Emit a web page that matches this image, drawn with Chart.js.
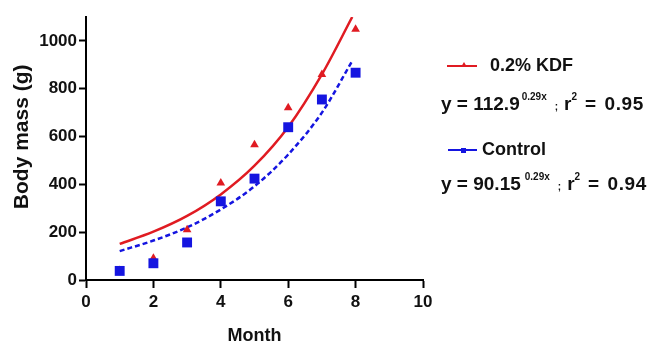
<!DOCTYPE html>
<html>
<head>
<meta charset="utf-8">
<script src="https://cdn.jsdelivr.net/npm/chart.js@4"></script>
<style>
html, body { margin: 0; padding: 0; background: #fff; }
#wrap { position: relative; width: 652px; height: 347px; }
#myChart { position: absolute; left: 0; top: 0; }
.lg { position: absolute; font-family: 'Liberation Sans', Arial, sans-serif; font-weight: bold; font-size: 18px; line-height: 18px; color: #111; white-space: pre; }
.eq { font-size: 19px; }
.sup { font-size: 10px; position: relative; top: -10px; }
.semi { font-size: 10px; margin-left: 8px; }
.r { margin-left: 6px; }
.tail { letter-spacing: 0.6px; word-spacing: 2px; }
.key { position: absolute; height: 2px; }
</style>
</head>
<body>
<div id="wrap">
    <canvas id="myChart" width="652" height="347"></canvas>

    <div class="key" style="left:447px; top:65px; width:30px; background:#e01b22;"></div>
    <div style="position:absolute; left:461px; top:62px; width:0; height:0; border-left:3px solid transparent; border-right:3px solid transparent; border-bottom:5px solid #e01b22;"></div>
    <div class="lg" style="left:490px; top:56px;">0.2% KDF</div>
    <div class="lg eq" style="left:441px; top:95px;">y = 112.9<span class="sup" style="margin-left:2px">0.29x</span><span class="semi">;</span><span class="r">r</span><span class="sup">2</span><span class="tail"> = 0.95</span></div>

    <div class="key" style="left:448px; top:149px; width:29px; background:#1515e0;"></div>
    <div style="position:absolute; left:461px; top:148px; width:5px; height:5px; background:#1515e0;"></div>
    <div class="lg" style="left:482px; top:140px;">Control</div>
    <div class="lg eq" style="left:441px; top:175px;">y = 90.15<span class="sup" style="margin-left:4px">0.29x</span><span class="semi">;</span><span class="r">r</span><span class="sup">2</span><span class="tail"> = 0.94</span></div>
</div>
<script>
// measured points (month, body mass in g)
const months = [1, 2, 3, 4, 5, 6, 7, 8];
const kdfMass = [40, 91, 210, 406, 566, 720, 860, 1049];
const controlMass = [38, 70, 157, 329, 424, 639, 755, 867];

// fitted curves
const fitMonths = [1, 2, 3, 4, 5, 6, 7, 7.9];
const kdfFit = [151, 202, 268, 358, 478, 640, 860, 1100];
const controlFit = [121, 165, 220, 295, 392, 525, 700, 916];

const xTicks = [0, 2, 4, 6, 8, 10];
const yTicks = [0, 200, 400, 600, 800, 1000];

const red = '#e01b22';
const blue = '#1515e0';
const fontFamily = "'Liberation Sans', Arial, sans-serif";

function toPoints(xs, ys) {
    return xs.map((x, i) => ({ x: x, y: ys[i] }));
}

const ctx = document.getElementById('myChart').getContext('2d');
new Chart(ctx, {
    type: 'scatter',
    data: {
        datasets: [
            {
                label: '0.2% KDF fit',
                data: toPoints(fitMonths, kdfFit),
                showLine: true,
                borderColor: red,
                borderWidth: 2.5,
                pointRadius: 0,
                cubicInterpolationMode: 'monotone',
                order: 4
            },
            {
                label: 'Control fit',
                data: toPoints(fitMonths, controlFit),
                showLine: true,
                borderColor: blue,
                borderWidth: 2.5,
                borderDash: [5, 3],
                pointRadius: 0,
                cubicInterpolationMode: 'monotone',
                order: 3
            },
            {
                label: '0.2% KDF',
                data: toPoints(months, kdfMass),
                pointStyle: 'triangle',
                pointRadius: 5,
                backgroundColor: red,
                borderColor: red,
                borderWidth: 0,
                order: 2
            },
            {
                label: 'Control',
                data: toPoints(months, controlMass),
                pointStyle: 'rect',
                pointRadius: 7,
                backgroundColor: blue,
                borderColor: blue,
                borderWidth: 0,
                order: 1
            }
        ]
    },
    options: {
        responsive: false,
        animation: false,
        layout: {
            padding: { top: 17, right: 229, left: 0, bottom: 0 }
        },
        plugins: {
            legend: { display: false },
            tooltip: { enabled: false }
        },
        scales: {
            x: {
                type: 'linear',
                min: 0,
                max: 10,
                afterBuildTicks: (scale) => { scale.ticks = xTicks.map(v => ({ value: v })); },
                afterFit: (scale) => { scale.height = 67; },
                border: { color: '#000', width: 2 },
                grid: { drawOnChartArea: false, tickLength: 8, tickColor: '#000', tickWidth: 2 },
                ticks: {
                    color: '#111', padding: 4, maxRotation: 0,
                    callback: (v) => String(v),
                    font: { family: fontFamily, size: 17, weight: 'bold' }
                },
                title: {
                    display: true,
                    text: 'Month',
                    color: '#111',
                    padding: { top: 0, bottom: 0 },
                    font: { family: fontFamily, size: 18, weight: 'bold' }
                }
            },
            y: {
                type: 'linear',
                min: 0,
                max: 1100,
                afterBuildTicks: (scale) => { scale.ticks = yTicks.map(v => ({ value: v })); },
                afterFit: (scale) => { scale.width = 86; },
                border: { color: '#000', width: 2 },
                grid: { drawOnChartArea: false, tickLength: 7, tickColor: '#000', tickWidth: 2 },
                ticks: {
                    color: '#111', padding: 2,
                    callback: (v) => String(v),
                    font: { family: fontFamily, size: 17, weight: 'bold' }
                },
                title: {
                    display: true,
                    // leading spaces nudge the centred title upwards a little
                    text: '    Body mass (g)',
                    color: '#111',
                    padding: { top: 10, bottom: 0 },
                    font: { family: fontFamily, size: 21, weight: 'bold' }
                }
            }
        }
    }
});
</script>
</body>
</html>
